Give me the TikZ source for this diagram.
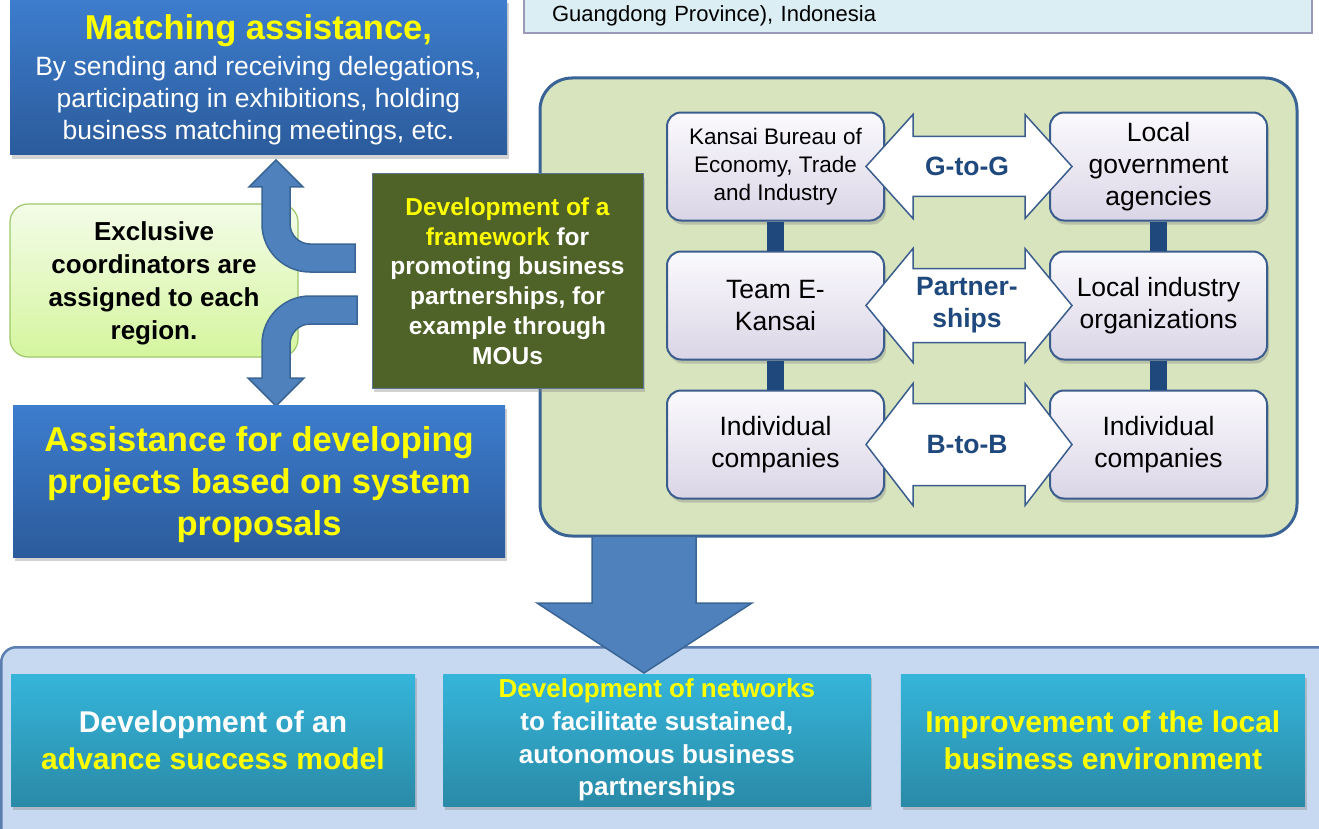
\documentclass[tikz,border=0pt]{standalone}
\usepackage{fontspec}
\setmainfont{Liberation Sans}
\usetikzlibrary{positioning,shadows,calc}

\definecolor{guangFill}{HTML}{DBEEF4}
\definecolor{guangLine}{HTML}{9A9AB8}
\definecolor{blueTop}{HTML}{3D7DCE}
\definecolor{blueBot}{HTML}{2B5B9B}
\definecolor{exclTop}{HTML}{F3FCE8}
\definecolor{exclBot}{HTML}{D5F59E}
\definecolor{exclLine}{HTML}{9CC86A}
\definecolor{olive}{HTML}{4F6228}
\definecolor{oliveLine}{HTML}{5B7595}
\definecolor{regionFill}{HTML}{D7E4BD}
\definecolor{regionLine}{HTML}{3A6395}
\definecolor{partyTop}{HTML}{FBFAFD}
\definecolor{partyBot}{HTML}{DAD5E6}
\definecolor{partyLine}{HTML}{3B5D8D}
\definecolor{barBlue}{HTML}{1F497D}
\definecolor{arrowFill}{HTML}{4F81BD}
\definecolor{arrowLine}{HTML}{3A6595}
\definecolor{baseFill}{HTML}{C6D9F1}
\definecolor{baseLine}{HTML}{5B7FAE}
\definecolor{tealTop}{HTML}{35B5DA}
\definecolor{tealBot}{HTML}{2A8AA7}
\definecolor{hiYellow}{HTML}{FFFF00}

\newcommand{\fsz}[2]{\fontsize{#1}{#2}\selectfont}
% white double block arrow between two boxes of the matrix
\newcommand{\dblarrow}[4]{%
	\draw[blockarrow] let \p1=([xshift=-19pt]#1.east), \p2=([xshift=23pt]#2.west) in
		(\x1,\y1) -- (\x1+47pt,\y1+#4) -- (\x1+47pt,\y1+#3) -- (\x2-47pt,\y1+#3) -- (\x2-47pt,\y1+#4) -- (\x2,\y1)
		-- (\x2-47pt,\y1-#4) -- (\x2-47pt,\y1-#3) -- (\x1+47pt,\y1-#3) -- (\x1+47pt,\y1-#4) -- cycle;}

\begin{document}
\begin{tikzpicture}[x=1pt, y=-1pt,
	softshadow/.style={drop shadow={shadow xshift=2pt, shadow yshift=-4pt, opacity=0.35}},
	bluebox/.style={top color=blueTop, bottom color=blueBot, softshadow, align=center, inner sep=0pt},
	partybox/.style={draw=partyLine, line width=2pt, rounded corners=14pt, top color=partyTop, bottom color=partyBot,
		minimum width=217pt, minimum height=108pt, align=center, inner sep=0pt, font=\fsz{26.5}{32}, softshadow},
	blockarrow/.style={draw=partyLine, line width=1.5pt, fill=white, line join=miter},
	arrowtext/.style={text=barBlue, font=\fsz{26.5}{32}\bfseries, align=center},
	curvearrow/.style={draw=arrowLine, line width=1.5pt, fill=arrowFill},
	tealbox/.style={top color=tealTop, bottom color=tealBot, softshadow, minimum height=132pt, inner sep=0pt,
		align=center, text=white},
	]
	\useasboundingbox (0,0) rectangle (1319,829);

	\node[draw=guangLine, line width=1.2pt, fill=guangFill, minimum width=788pt, minimum height=38pt, text depth=0.6pt,
		text width=732pt, inner xsep=28pt, align=left, font=\fsz{22}{26}] (guang) at (918,14) {Guangdong Province), Indonesia};

	% partnership area
	\node[draw=regionLine, line width=3pt, fill=regionFill, rounded corners=32pt,
		minimum width=757pt, minimum height=458pt] (region) at (918.5,307) {};
	\matrix[nodes={partybox}, row sep=29pt, column sep=164pt, ampersand replacement=\&] (partners) at (967,305.5) {
		\node[font=\fsz{22.5}{28}] (kansai) {Kansai Bureau of\\Economy, Trade\\and Industry};\&
		\node (localgov) {Local\\government\\agencies};\\
		\node (teame) {Team E-\\Kansai};\&
		\node (localind) {Local industry\\organizations};\\
		\node (compleft) {Individual\\companies};\&
		\node (compright) {Individual\\companies};\\
	};
	\path[draw=barBlue, line width=17pt]
		(kansai) -- (teame) (teame) -- (compleft)
		(localgov) -- (localind) (localind) -- (compright);
	\dblarrow{kansai}{localgov}{30pt}{52pt}
	\dblarrow{teame}{localind}{37pt}{57pt}
	\dblarrow{compleft}{compright}{41pt}{61pt}
	\node[arrowtext] (gtog) at ($(kansai.east)!0.5!(localgov.west)$) {G-to-G};
	\node[arrowtext] (ships) at ($(teame.east)!0.5!(localind.west)$) {Partner-\\ships};
	\node[arrowtext] (btob) at ($(compleft.east)!0.5!(compright.west)$) {B-to-B};

	% left column
	\node[bluebox, minimum width=497pt, minimum height=156pt, text=white, text depth=0pt, font=\fsz{26.5}{32}] (matching) at (258.5,77)
		{{\fsz{34.5}{36}\bfseries\color{hiYellow}Matching assistance,}\\[4pt]By sending and receiving delegations,\\participating in exhibitions, holding\\business matching meetings, etc.};
	\node[draw=exclLine, line width=1.2pt, top color=exclTop, bottom color=exclBot, rounded corners=18pt, text depth=-1.5pt,
		minimum width=288pt, minimum height=153pt, align=center, font=\fsz{26}{33}\bfseries] (exclusive) at (154,280.5)
		{Exclusive\\coordinators are\\assigned to each\\region.};
	\draw[curvearrow] (355,272) -- (310,272) .. controls (283.5,272) and (262,250.5) .. (262,224) -- (262,187) -- (249,187)
		-- (276,160) -- (303,187) -- (290,187) -- (290,224) .. controls (290,235) and (299,244) .. (310,244) -- (355,244) -- cycle;
	\draw[curvearrow] (357,296) -- (310,296) .. controls (283.5,296) and (262,317.5) .. (262,344) -- (262,378) -- (248,378)
		-- (276,406) -- (304,378) -- (290,378) -- (290,344) .. controls (290,333) and (299,324) .. (310,324) -- (357,324) -- cycle;
	\node[draw=oliveLine, line width=1pt, fill=olive, softshadow, minimum width=271pt, minimum height=214pt,
		align=center, text=white, font=\fsz{24.5}{29.7}\bfseries] (framework) at (507.5,281)
		{{\color{hiYellow}Development of a}\\{\color{hiYellow}framework} for\\promoting business\\partnerships, for\\example through\\MOUs};
	\node[bluebox, minimum width=492pt, minimum height=152pt, text=hiYellow, text depth=-2.7pt, font=\fsz{34.5}{42}\bfseries] (assist) at (259,481)
		{Assistance for developing\\projects based on system\\proposals};

	% outcomes
	\node[draw=baseLine, line width=2.5pt, fill=baseFill, rounded corners=15pt, minimum width=1360pt,
		minimum height=220pt, anchor=north west] (outcomes) at (0,646) {};
	\draw[curvearrow] (592,536) -- (592,603) -- (537,603) -- (644,673) -- (752,603) -- (696,603) -- (696,536) -- cycle;
	\node[tealbox, minimum width=404pt, font=\fsz{30}{37}\bfseries] (success) at (213,740)
		{Development of an\\{\color{hiYellow}advance success model}};
	\node[tealbox, minimum width=427pt, font=\fsz{26}{32.7}\bfseries, right=28pt of success] (networks)
		{{\color{hiYellow}Development of networks}\\to facilitate sustained,\\autonomous business\\partnerships};
	\node[tealbox, minimum width=404pt, text=hiYellow, font=\fsz{30}{37}\bfseries, right=30pt of networks] (environment)
		{Improvement of the local\\business environment};
\end{tikzpicture}
\end{document}
